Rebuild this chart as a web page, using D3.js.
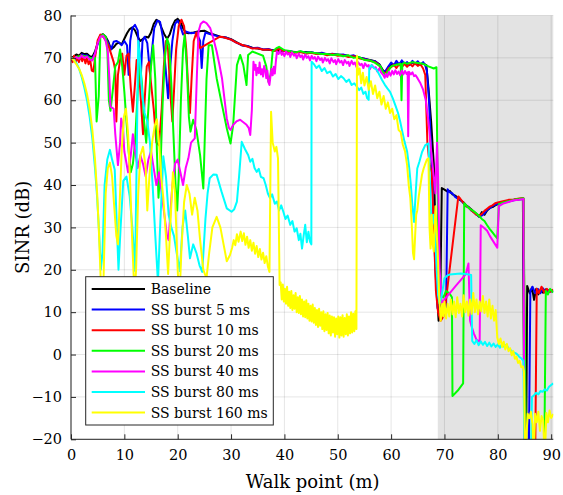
<!DOCTYPE html>
<html>
<head>
<meta charset="utf-8">
<script src="https://cdn.jsdelivr.net/npm/d3@7"></script>
<style>
  html, body { margin: 0; padding: 0; background: #fff; }
  svg { display: block; }
  svg text { font-family: "DejaVu Serif", "Liberation Serif", "Times New Roman", serif; fill: #000; }
</style>
</head>
<body>
<div id="chart"></div>
<script>
// SINR along the walk path for the baseline and each SS burst periodicity.
// Each series is a list of [walk point (m), SINR (dB)] samples.

const seriesNames = ["Baseline", "SS burst 5 ms", "SS burst 10 ms", "SS burst 20 ms",
                     "SS burst 40 ms", "SS burst 80 ms", "SS burst 160 ms"];
const seriesColors = ["#000000", "#0000ff", "#ff0000", "#00ff00", "#ff00ff", "#00ffff", "#ffff00"];

const xTicks = [0, 10, 20, 30, 40, 50, 60, 70, 80, 90];
const yTicks = [-20, -10, 0, 10, 20, 30, 40, 50, 60, 70, 80];
const xDomain = [0, 90.4];
const yDomain = [-20, 80];
const shadedRange = [68.75, 90.4];

const baseline = [
  [0,70],[0.5,70.3],[1,70.8],[1.5,70.5],[2,71.2],[2.5,70.9],[3,71],[3.5,70.4],[4,70.2],[4.5,71.5],
  [5,73.5],[5.5,75.3],[6,75.6],[6.5,75],[7,73.8],[7.5,72],[8,72.5],[8.5,73.3],[9,73.6],[9.5,73.2],
  [10,74.5],[10.5,75.8],[11,76.8],[11.5,77.2],[12,76.5],[12.5,75],[13,74],[13.5,74.5],[14,75],[14.5,74.8],
  [15,76],[15.5,78],[16,79],[16.5,78.6],[17,77],[17.5,75.5],[18,74.5],[18.5,75.5],[19,77.5],[19.5,78.8],
  [20,79.2],[20.5,78.5],[21,77],[21.5,76],[22,75.8],[23,76],[24,76.3],[25,76.4],[26,75.8],[27,75.4],
  [28,75],[29,74.8],[30,74.4],[31,73.7],[32,73],[33,72.8],[34,72.4],[35,72.2],[36,72],[37,71.9],
  [38,71.8],[39,71.7],[40,71.6],[42,71.4],[44,71.4],[46,71.1],[48,70.9],[50,70.8],[52,70.5],[54,70.1],
  [56,69.5],[57,69.2],[57.8,68.5],[58.5,67],[59,66.8],[59.5,67.8],[60,68.4],[61,68.5],[62,68.8],[63,68.5],
  [64,68.9],[65,68.4],[66,68.7],[66.6,68.3],[67,63],[67.5,55],[68,45],[68.3,30],[68.6,15],[68.9,8],
  [69.2,12],[69.5,39.3],[70,38.9],[70.5,38.5],[71,38.6],[71.5,37.8],[72,37.5],[72.5,37],[73,36.4],[73.5,36],
  [74,35.3],[74.5,34.8],[75,34.3],[75.5,33.7],[76,33.2],[76.5,32.5],[77,33.6],[77.5,33],[78,34],[78.5,34.6],
  [79,34.8],[79.5,35.2],[80,35.5],[81,35.8],[82,36.2],[83,36.5],[84,36.7],[84.7,36.8],[85,-25],[85.3,-25],
  [85.5,16.2],[86,14.4],[86.4,15.8],[86.8,12.9],[87.2,15.5],[87.6,14.2],[88,15.2],[88.5,14.6],[89,15.4],[89.5,14.8],[90.4,15]
];

const burst5 = [
  [0,70],[0.5,69.5],[1,70.2],[1.5,70],[2,70.8],[2.5,70.5],[3,70.6],[3.5,70],[4,69.8],[4.5,71],
  [5,73.3],[5.5,75],[6,75.3],[6.5,74.6],[7,73.5],[7.5,72],[8,73.8],[8.5,74],[9,73.6],[9.5,73],
  [10,74],[10.5,73],[10.8,66],[11.1,74],[11.5,77],[12,77.8],[12.5,76.5],[12.9,70],[13.1,66],[13.4,74],
  [13.8,75],[14.3,73.5],[14.8,66.5],[15.2,72],[15.6,77],[16.2,78.8],[16.7,78.5],[17.2,75],[17.7,68],[18.2,60.5],
  [18.6,68],[19,74],[19.5,78],[20,78.8],[20.5,77.5],[21,75.5],[21.6,76.2],[22.5,75.8],[23.5,76],[24.2,74],
  [24.5,67.6],[24.8,74],[25.2,76],[26,75.6],[27,75.3],[28,74.9],[29,74.8],[30,74.3],[31,73.6],[32,73],
  [33,72.8],[34,72.3],[35,72.4],[36,72],[37,72.1],[38,71.7],[39,72.3],[40,71.7],[41,71.6],[42,71.3],
  [43,71.5],[44,71.2],[45,71.4],[46,71],[47,71.2],[48,70.8],[49,71],[50,70.7],[51,70.8],[52,70.4],
  [53,70.6],[54,70],[55,69.8],[56,69.4],[57,69.2],[57.8,68.3],[58.5,66.8],[59,67],[59.5,68],[60,68.9],
  [60.5,68.2],[61,69.3],[61.5,68.4],[62,69.4],[62.5,68.6],[63,69],[63.5,68.3],[64,69.3],[64.5,68.5],[65,69.2],
  [65.5,68.4],[66,69],[66.4,68.2],[66.7,67],[67.1,60],[67.5,48],[67.9,35],[68.3,20],[68.7,11],[69.2,9],
  [69.8,10.5],[70.3,11],[70.6,39],[71,38.3],[71.5,38],[72,37.2],[72.5,36.8],[73,36.5],[73.5,35.8],[74,35],
  [74.5,34.8],[75,34],[75.5,33.6],[76,33],[76.5,32.6],[77,32.8],[77.5,33.3],[78,34.2],[78.5,34.5],[79,35],
  [79.5,35.3],[80,35.6],[81,35.9],[82,36.1],[83,36.4],[84,36.6],[84.8,36.7],[85.1,-25],[85.8,-25],[86.1,15],
  [86.5,16],[87,14.5],[87.5,15.5],[88,14.5],[88.5,15.6],[89,14.5],[89.5,15.2],[90.4,14.8]
];

const burst10 = [
  [0,70],[0.3,69],[0.6,70.5],[0.9,68.8],[1.2,70.3],[1.5,69],[1.8,70.6],[2.1,69.2],[2.4,70.4],[2.7,68.7],
  [3,70],[3.3,68.5],[3.6,69.5],[3.9,67],[4.2,66.8],[4.5,70],[5,74.2],[5.5,75.5],[6,75],[6.5,74.2],
  [7,73],[7.5,71],[8,69],[8.3,67],[8.5,55],[8.8,66],[9.2,69.5],[9.6,71],[10,66],[10.4,70.5],
  [10.8,71],[11.2,63],[11.6,57.3],[12,64],[12.3,69.5],[12.7,68],[13.1,60],[13.5,52],[13.8,60],[14.2,68],
  [14.6,69],[15,64],[15.5,58],[16,50],[16.5,49.4],[17,58],[17.4,68],[17.8,74],[18.2,72],[18.6,62],
  [19,55],[19.3,62],[19.7,72],[20.2,77.5],[20.7,79],[21.2,77.5],[21.6,72],[22,62],[22.3,57],[22.6,65],
  [23,74],[23.5,76],[24.2,72.3],[27.9,75],[28.5,74.9],[29,74.7],[30,74.3],[31,73.6],[32,73.1],[33,72.7],
  [34,72.2],[35,72.3],[36,71.9],[37,72],[38,71.6],[39,72.1],[40,71.6],[41,71.4],[42,71.2],[43,71.4],
  [44,71],[45,71.2],[46,70.9],[47,71],[48,70.6],[49,70.9],[50,70.5],[51,70.6],[52,70.2],[53,70.4],
  [54,69.9],[55,69.6],[56,69.3],[57,69],[57.8,68.2],[58.5,66.5],[59,66.3],[59.5,67.5],[60,67.8],[60.5,68.4],
  [61,67.6],[61.5,68.5],[62,67.8],[62.5,68.6],[63,67.9],[63.5,68.7],[64,68],[64.5,68.8],[65,68.1],[65.5,68.5],
  [66,67.5],[66.4,66],[66.8,50],[67.2,45],[67.6,43],[68,30],[68.4,15],[68.8,10],[69.3,8],[69.8,9],
  [70.2,12],[72.6,37.3],[73,36.7],[73.5,35.9],[74,35.1],[74.5,34.7],[75,34.1],[75.5,33.5],[76,33],[76.5,32.8],
  [77,33.2],[77.5,33.9],[78,34.4],[78.5,34.9],[79,35.2],[79.5,35.7],[80,35.9],[81,36.2],[82,36.5],[83,36.6],
  [84,36.8],[84.8,36.9],[85.2,-25],[87,-25],[87.3,15.5],[87.7,14.5],[88.2,16],[88.7,14.6],[89.2,15.5],[89.7,14.8],[90.4,15.3]
];

const burst20 = [
  [0,70],[0.5,69.6],[1,70.2],[2,70.5],[3,70.3],[4,69.8],[4.5,70],[4.8,55],[5.2,61],[5.5,75],
  [6,75.5],[6.5,75],[6.8,72.5],[7.1,60],[7.4,57.5],[7.8,62],[8.3,68],[8.8,69],[9.2,72],[9.6,68],
  [10,62],[10.4,55],[10.8,48],[11.2,43],[11.6,45],[12,50],[12.5,62],[12.9,69],[13.3,64],[13.7,55],
  [14.1,50],[14.5,58],[15,68],[15.4,73],[15.8,65],[16.1,48],[16.4,37],[16.8,45],[17.2,60],[17.6,70],
  [18,74.6],[18.4,73],[18.8,64],[19.2,52],[19.6,40],[19.9,34],[20.2,42],[20.6,60],[21,72],[21.3,75.4],
  [21.7,68],[22.1,56],[22.4,52.6],[22.9,55.4],[23.5,53],[24.2,47],[24.8,39.2],[25.4,65],[25.8,73],[26.4,73],
  [27.3,65.2],[28.3,58.9],[29.2,53.4],[29.9,49.8],[30.4,54.2],[31.1,68.3],[31.7,70.7],[32.3,68.3],[32.9,63.6],[33.2,70.7],
  [34,71.5],[35,71],[36,70.5],[36.6,68],[37,64.4],[37.4,66],[37.8,71.5],[38.5,72.3],[39,72.6],[40,71.8],
  [41,71.6],[42,71.3],[43,71.6],[44,71.2],[45,71.3],[46,71.1],[47,70.9],[48,70.9],[49,70.7],[50,70.8],
  [51,70.4],[52,70.6],[53,70],[54,70.2],[55,69.5],[56,69.4],[57,68.8],[58,68],[58.5,66.5],[59,66],
  [59.5,67],[60,68],[61,68.4],[61.8,68.6],[61.95,60],[62.1,68.5],[62.5,68.9],[63,68.6],[64,69],[65,68.8],
  [66,68.6],[67,68],[68,67.5],[68.5,67.8],[68.7,40],[68.9,20],[69.2,14],[69.8,13.5],[70.3,15],[70.9,14.5],
  [71.4,13.5],[71.5,-9.8],[72.5,-8.5],[73.5,-6.8],[73.7,35.7],[74,35.3],[74.5,34.6],[75,34.2],[75.5,33.8],[76,33.3],
  [76.5,32.7],[77,32],[77.5,31.5],[78,30.5],[78.5,29.6],[79,28.8],[79.5,28],[79.9,27.4],[80.2,35.5],[81,35.9],
  [82,36.2],[83,36.5],[84,36.7],[84.8,36.9],[85.3,-25],[88.7,-25],[89,15],[89.4,14.2],[89.8,15.5],[90.4,14.6]
];

const burst40 = [
  [0,70],[0.5,69.6],[1,70.2],[1.5,69.8],[2,70.5],[2.5,70],[3,70.3],[3.5,69.6],[4,69.4],[4.5,71],
  [5,73.5],[5.5,75],[6,75.2],[6.5,74],[6.9,71.5],[7.2,65],[7.4,58.5],[8,58],[8.3,52],[8.8,44.7],
  [9.2,50],[9.4,55.7],[9.7,54],[10,47.9],[10.7,43],[11.2,47],[11.6,52],[12,48],[12.5,44],[13,47],
  [13.5,45],[14,42],[14.5,46],[15,48],[15.5,44],[16,40],[16.5,43],[17,38],[17.5,33],[18,28],
  [18.3,27],[18.6,33],[19,40],[19.5,45],[20,46],[20.5,43],[21,40],[21.5,44],[22,46.3],[22.5,50],
  [23.2,51],[23.6,66],[23.9,76.2],[24.3,78],[24.8,78.6],[25.4,78.2],[26.1,77],[26.7,74.5],[27.3,71.5],[27.8,68.5],
  [28.3,65.2],[28.8,60],[29.2,55.7],[29.6,53.5],[29.9,53],[30.4,54.2],[31,55],[31.7,55.4],[32.3,54.8],[32.9,54.2],
  [33.3,53.5],[33.6,51.8],[33.9,57.7],[34.2,69.1],[34.4,67.2],[34.6,68.4],[34.75,65.9],[35,67.6],[35.2,66.4],[35.35,68.9],
  [35.6,66.1],[35.8,67.3],[36,65.6],[36.2,68.1],[36.45,66.8],[36.6,65.2],[36.8,67],[37,64.3],[37.2,63.6],[37.4,65.8],
  [37.6,67.4],[37.8,65.9],[38,67.9],[38.2,66.3],[38.4,69.2],[38.6,71.5],[38.9,70.9],[39.2,71.7],[39.5,70.7],[39.7,71.3],
  [40,70.4],[40.3,71.5],[40.6,70.8],[40.9,71.1],[41.1,70.2],[41.4,71.3],[41.8,70.5],[42.1,70.9],[42.3,69.9],[42.7,71],
  [43,70.2],[43.3,70.6],[43.5,69.6],[43.9,70.8],[44.2,70],[44.5,70.4],[44.8,69.4],[45.1,70.5],[45.4,69.8],[45.7,70.2],
  [46,69.2],[46.3,70.3],[46.7,69.5],[47,69.9],[47.2,68.9],[47.6,70],[47.9,69.3],[48.2,69.7],[48.5,68.7],[48.8,69.9],
  [49.2,69],[49.5,69.5],[49.7,68.5],[50.1,69.7],[50.4,68.9],[50.7,69.3],[51,68.3],[51.3,69.5],[51.7,68.7],[52,69.1],
  [52.2,68.1],[52.6,69.3],[52.9,68.5],[53.2,68.9],[53.5,67.9],[53.8,69],[54.2,68.3],[54.5,68.6],[54.8,67.6],[55.1,68.7],
  [55.5,68],[55.8,68.3],[56,67.3],[56.4,68.3],[56.8,67.6],[57.1,67.8],[57.4,66.8],[57.8,67.5],[58.1,66.6],[58.5,66],
  [58.8,65.3],[59,66.2],[59.3,65.5],[59.6,66.7],[59.9,65.8],[60.2,66.9],[60.5,66.1],[60.8,67.1],[61.1,66.2],[61.4,66.8],
  [61.7,65.9],[62,67],[62.3,66.1],[62.6,66.9],[62.9,66.2],[63.1,66.6],[63.2,51.5],[63.35,66.7],[63.7,66.1],[64,66.6],
  [64.3,65.7],[64.6,65.9],[65,65.1],[65.5,64],[66,62.5],[66.5,60],[67,55],[67.5,48],[68,42],[68.3,38],
  [68.6,50],[68.8,42],[69.1,20],[69.5,12],[70,13],[71,14.5],[72,16],[73,17.5],[74,19],[74.5,21.5],
  [74.8,8],[75,7],[75.5,5],[76,3.5],[76.6,3],[76.8,30.5],[77.5,29.8],[78,29.2],[78.5,28],[79,27],
  [79.5,26],[79.9,25.2],[80.2,35],[81,35.6],[82,36],[83,36.4],[84,36.5],[84.8,36.7],[85,-25],[90.4,-25]
];

const burst80 = [
  [0,70],[0.5,69.6],[1,68.8],[1.5,67.5],[2,65.5],[2.5,63],[3,60],[3.5,56],[4,51],[4.5,44],
  [4.9,37],[5.3,28],[5.6,20],[5.9,24],[6.3,40],[6.8,46],[7.3,48.3],[7.7,46],[8.2,43.6],[8.6,30],
  [8.9,20],[9.3,30],[9.8,41],[10.4,42],[11,37.3],[11.5,30],[12,19.7],[12.3,45],[12.6,74],[12.9,70],
  [13.3,62],[13.8,57],[14.3,55],[14.8,50],[15.3,40],[15.8,28],[16.3,17],[16.7,30],[17.3,46.8],[17.8,42],
  [18.3,33],[18.8,30],[19.3,28],[19.8,24],[20.4,19.7],[20.9,30],[21.4,34],[21.9,28],[22.3,22.7],[22.9,26],
  [23.5,24],[24.1,21],[24.6,19.5],[25.2,32],[25.6,38],[26,41.6],[26.7,42.5],[27.3,42.4],[28.2,38.5],[29.2,34.5],
  [30.1,33.7],[30.6,34.3],[31.1,36.1],[31.5,42],[32,50.2],[32.6,48.5],[33.2,47.1],[33.6,45.5],[34,46.2],[34.4,44],
  [34.8,43.1],[35.2,43.8],[35.6,41.9],[36.1,41.6],[36.5,40],[36.9,38],[37.3,36.9],[37.7,37.8],[38.2,35.6],[38.6,36.1],
  [39,34],[39.4,35.2],[39.8,33.7],[40.2,32],[40.6,32.8],[41.1,30.6],[41.5,31.5],[41.9,29],[42.3,29.8],[42.7,27],
  [43,28.5],[43.3,25],[43.6,28],[43.9,30.6],[44.2,26.5],[44.5,29],[44.8,26.6],[45.05,26],[45.1,69.1],[45.6,68.4],
  [46,67.6],[46.5,68.2],[47,66.9],[47.5,67.6],[48,66.4],[48.6,66.8],[49.1,65.6],[49.6,66.2],[50.1,65],[50.6,65.7],
  [51.1,65.2],[51.6,64.3],[52.1,64.9],[52.6,63.6],[53.1,64],[53.6,63.2],[54,62.4],[54.4,63],[54.8,61.5],[55.2,62],
  [55.5,60.5],[55.8,60.1],[55.9,67.5],[56.3,68.3],[56.8,67.6],[57.3,67.2],[57.8,66],[58.3,64.8],[58.8,63.7],[59.3,62.8],
  [59.8,62],[60.3,60.5],[60.8,58.8],[61.3,57],[61.7,55],[62.1,52.6],[62.5,50.3],[63,47.9],[63.4,44],[63.7,40],
  [64,35],[64.3,31.3],[64.6,38],[64.9,43.9],[65.3,45.5],[65.8,47.8],[66.4,49.4],[67,49.8],[67.3,40],[67.6,29],
  [67.9,33],[68.2,30.5],[68.5,21],[68.8,14],[69.1,12],[69.5,14],[70,18],[70.5,18.6],[71,18.9],[72,19],
  [73,19.1],[74,19],[75,18.8],[75.2,3.2],[75.6,2.5],[76,3.4],[76.4,2.2],[76.8,3.1],[77.2,2.3],[77.6,3],
  [78,2],[78.4,2.8],[78.8,1.9],[79.2,2.6],[79.6,1.8],[80,2.4],[80.4,1.6],[80.8,2.5],[81.2,1.8],[81.6,2.3],
  [82,1.5],[82.3,1.2],[82.6,0.8],[83,0.5],[83.5,0.2],[84,-0.5],[84.5,-1],[84.8,-1.5],[85,-25],[86.2,-25],
  [86.4,-10],[86.8,-9.6],[87.2,-9],[87.6,-9.4],[88,-8.6],[88.4,-8.8],[88.8,-8.2],[89.2,-8.5],[89.6,-7.6],[90,-7.2],[90.4,-6.8]
];

const burst160 = [
  [0,70],[0.5,69.5],[1,68.5],[1.5,67.5],[2,66],[2.5,64],[3,61.5],[3.5,58],[4,53],[4.5,46],
  [4.9,38],[5.2,30],[5.5,20],[5.8,10],[6.1,18],[6.5,38],[6.9,44],[7.3,45.3],[7.7,42],[8.1,35],
  [8.5,28],[8.8,26],[9.1,35],[9.5,48],[9.9,56],[10.3,58],[10.7,52],[11.1,40],[11.5,26],[11.9,14],
  [12.2,20],[12.6,38],[13,47],[13.5,49],[14,44],[14.3,34],[14.7,42],[15.2,50],[15.7,54],[16.1,55.5],
  [16.5,50],[16.9,42],[17.3,37],[17.8,28],[18.2,19],[18.6,30],[19.1,43],[19.5,38],[20,20],[20.3,12],
  [20.7,25],[21.2,36],[21.7,40],[22.2,38],[22.7,33],[23.2,37],[23.7,34],[24.2,27],[24.8,20],[25.4,18],
  [25.9,24],[26.5,30],[27.3,32.5],[28,30],[28.6,26],[29.2,22],[29.8,23.5],[30.2,25.2],[30.5,27],[30.8,25.8],
  [31.1,28.4],[31.4,26.6],[31.8,29],[32.1,26.8],[32.4,28.6],[32.7,25.9],[33,27.8],[33.3,25.2],[33.6,27],[33.9,24.5],
  [34.2,26.4],[34.5,23.8],[34.8,25.6],[35.1,23],[35.4,24.9],[35.7,22.4],[36,24],[36.3,21.6],[36.6,23.2],[36.9,20.8],
  [37.2,19.5],[37.5,57.3],[37.8,50],[38.2,47.9],[38.5,49],[38.8,46.3],[39.1,16.4],[39.3,17],[39.5,13],[39.7,16.5],
  [39.9,12.5],[40.1,15.5],[40.3,12],[40.5,16],[40.7,11.5],[40.9,14.8],[41.1,11],[41.3,15],[41.5,10.5],[41.7,14],
  [41.9,10.8],[42.1,14.5],[42.3,10],[42.5,13.5],[42.7,9.8],[42.9,13.8],[43.1,9.5],[43.3,13],[43.5,9],[43.7,12.5],
  [43.9,8.8],[44.1,12.8],[44.3,8.5],[44.5,12],[44.7,8],[44.9,11.5],[45.1,7.8],[45.3,11.8],[45.5,7.5],[45.7,11],
  [45.9,7],[46.1,10.5],[46.3,6.5],[46.5,10.8],[46.7,6.8],[46.9,10],[47.1,6],[47.3,10.2],[47.5,5.5],[47.7,9.5],
  [47.9,5.8],[48.1,9.8],[48.3,5],[48.5,9.2],[48.7,4.5],[48.9,9],[49.1,5.2],[49.3,8.8],[49.5,4.2],[49.7,8.5],
  [49.9,4.8],[50.1,9],[50.3,4],[50.5,8.8],[50.7,4.5],[50.9,9.3],[51.1,4.2],[51.3,8.6],[51.5,4.8],[51.7,9.5],
  [51.9,4.5],[52.1,9],[52.3,5],[52.5,10],[52.7,5.2],[52.9,9.6],[53.1,5.5],[53.3,10.2],[53.5,6],[53.6,70.5],
  [53.8,66],[54.1,67.5],[54.4,64],[54.7,66.5],[55,63.5],[55.4,65.5],[55.8,62.5],[56.2,64.5],[56.6,61.5],[57,63.5],
  [57.4,60.5],[57.8,62],[58.2,59],[58.6,61],[59,58],[59.4,59.5],[59.8,57],[60.2,58],[60.6,55.5],[61,56.5],
  [61.4,53],[61.8,52.5],[62.2,49.5],[62.6,48],[63,44.7],[63.3,40],[63.6,36.9],[63.9,30],[64.1,24],[64.3,22.5],
  [64.5,28],[64.7,33],[64.9,34],[65.2,37.5],[65.5,40],[65.8,42.5],[66.1,43.9],[66.4,45],[66.7,46],[67,46.3],
  [67.2,30],[67.4,25],[67.6,33],[67.8,26],[68,24.3],[68.3,35],[68.5,30],[68.8,22],[69,14],[69.3,8],
  [69.6,12],[69.8,9],[70,12.5],[70.3,8.5],[70.6,12],[70.9,9],[71.2,13],[71.5,9.5],[71.8,12.5],[72.1,8.8],
  [72.4,13.5],[72.7,9.8],[73,12],[73.3,9],[73.6,14],[73.9,10],[74.2,12.5],[74.5,9.2],[74.8,13],[75.1,9.6],
  [75.4,14.5],[75.7,10],[76,13],[76.3,9.5],[76.6,12.5],[76.9,10.2],[77.2,13.8],[77.5,9.8],[77.8,12.5],[78.1,9],
  [78.4,13],[78.7,8.5],[79,11.5],[79.3,8],[79.6,10.5],[79.9,4],[80.2,2.5],[80.5,3.8],[80.8,1.8],[81.1,3],
  [81.4,1.2],[81.7,2.5],[82,0.8],[82.3,1.5],[82.6,-0.2],[82.9,0.8],[83.2,-1],[83.5,-0.5],[83.8,-2],[84.1,-1.5],
  [84.4,-3],[84.7,-2.8],[84.9,-4],[85.1,-25],[85.6,-14],[85.9,-15],[86.2,-13.5],[86.5,-16.5],[86.7,-25],[87,-14],
  [87.3,-16],[87.6,-13.5],[87.9,-18],[88.2,-14.5],[88.5,-15.5],[88.8,-25],[89.1,-13.8],[89.4,-16],[89.7,-13.2],[90,-15],[90.4,-14]
];

const seriesData = [baseline, burst5, burst10, burst20, burst40, burst80, burst160];

// ---- layout ----
const W = 563, H = 495;
const plot = { left: 71, right: 553.3, top: 15.5, bottom: 439.3 };
const serif = "'DejaVu Serif', 'Liberation Serif', serif";

const x = d3.scaleLinear().domain(xDomain).range([plot.left, plot.right]);
const y = d3.scaleLinear().domain(yDomain).range([plot.bottom, plot.top]);

const svg = d3.select("#chart").append("svg")
  .attr("width", W).attr("height", H);

svg.append("defs").append("clipPath").attr("id", "plotClip")
  .append("rect")
  .attr("x", plot.left).attr("y", plot.top)
  .attr("width", plot.right - plot.left).attr("height", plot.bottom - plot.top);

// shaded region
svg.append("rect")
  .attr("x", x(shadedRange[0])).attr("y", plot.top)
  .attr("width", x(shadedRange[1]) - x(shadedRange[0]))
  .attr("height", plot.bottom - plot.top)
  .attr("fill", "#e3e3e3");

// grid
const grid = svg.append("g").attr("stroke", "#000").attr("stroke-opacity", 0.1).attr("stroke-width", 1);
xTicks.forEach(t => grid.append("line")
  .attr("x1", x(t)).attr("x2", x(t)).attr("y1", plot.top).attr("y2", plot.bottom));
yTicks.forEach(t => grid.append("line")
  .attr("x1", plot.left).attr("x2", plot.right).attr("y1", y(t)).attr("y2", y(t)));

// series
const line = d3.line().x(d => x(d[0])).y(d => y(d[1]));
const lines = svg.append("g").attr("clip-path", "url(#plotClip)");
seriesData.forEach((data, i) => {
  lines.append("path")
    .datum(data)
    .attr("d", line)
    .attr("fill", "none")
    .attr("stroke", seriesColors[i])
    .attr("stroke-width", 2)
    .attr("stroke-linejoin", "round");
});

// axes (ticks pointing inward)
const xAxis = d3.axisBottom(x).tickValues(xTicks).tickSize(-5).tickPadding(10).tickFormat(d3.format("d"));
const yAxis = d3.axisLeft(y).tickValues(yTicks).tickSize(-5).tickPadding(9).tickFormat(d3.format("d"));

const gx = svg.append("g").attr("transform", `translate(0,${plot.bottom})`).call(xAxis);
const gy = svg.append("g").attr("transform", `translate(${plot.left},0)`).call(yAxis);
[gx, gy].forEach(g => {
  g.attr("font-family", serif).attr("font-size", 14.5);
  g.select(".domain").attr("stroke", "#262626").attr("stroke-width", 1);
  g.selectAll(".tick line").attr("stroke", "#262626");
  g.selectAll(".tick text").attr("fill", "#000");
});
gx.select(".domain").attr("d", `M${plot.left},0H${plot.right}`);
gy.select(".domain").attr("d", `M0,${plot.bottom}V${plot.top}`);

// axis titles
svg.append("text")
  .attr("x", (plot.left + plot.right) / 2 + 0.5)
  .attr("y", 488)
  .attr("text-anchor", "middle")
  .attr("font-family", serif)
  .attr("font-size", 18)
  .text("Walk point (m)");

svg.append("text")
  .attr("transform", `translate(29,${(plot.top + plot.bottom) / 2}) rotate(-90)`)
  .attr("text-anchor", "middle")
  .attr("font-family", serif)
  .attr("font-size", 18)
  .text("SINR (dB)");

// legend
const legend = svg.append("g");
legend.append("rect")
  .attr("x", 85.7).attr("y", 276.7)
  .attr("width", 187.6).attr("height", 148.3)
  .attr("fill", "#fff").attr("stroke", "#262626").attr("stroke-width", 1);
seriesNames.forEach((name, i) => {
  const cy = 289 + i * 20.6;
  legend.append("line")
    .attr("x1", 91.7).attr("x2", 145).attr("y1", cy).attr("y2", cy)
    .attr("stroke", seriesColors[i]).attr("stroke-width", 2);
  legend.append("text")
    .attr("x", 150.7).attr("y", cy + 5)
    .attr("font-family", serif)
    .attr("font-size", 14)
    .text(name);
});
</script>
</body>
</html>
